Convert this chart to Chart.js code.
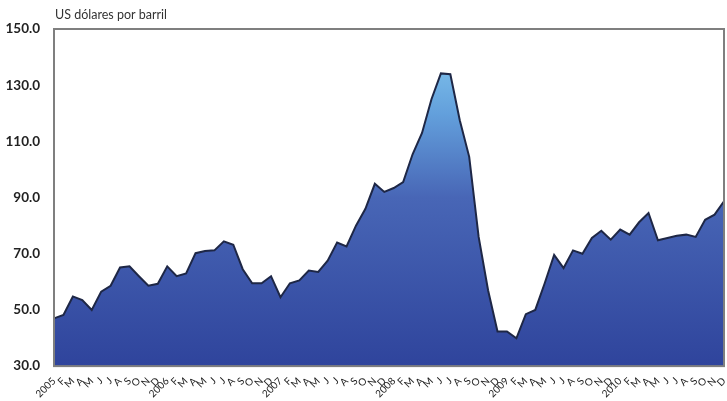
<!DOCTYPE html>
<html>
<head>
<meta charset="utf-8">
<script src="https://cdn.jsdelivr.net/npm/chart.js@4.4.0/dist/chart.umd.min.js"></script>
<style>
  html, body { margin: 0; padding: 0; background: #fff; }
  #wrap { width: 727px; height: 401px; }
</style>
</head>
<body>
<div id="wrap"><canvas id="oilChart"></canvas></div>
<script>
// precio mensual del petroleo, US$ por barril
var years = ['2005', '2006', '2007', '2008', '2009', '2010']
var monthLetters = ['E', 'F', 'M', 'A', 'M', 'J', 'J', 'A', 'S', 'O', 'N', 'D']
var p2005 = [47.0, 48.2, 54.8, 53.5, 50.0, 56.5, 58.6, 65.1, 65.5, 62.0, 58.6, 59.3]
var p2006 = [65.5, 62.0, 63.0, 70.2, 71.0, 71.2, 74.4, 73.2, 64.5, 59.5, 59.5, 62.0]
var p2007 = [54.5, 59.5, 60.5, 64.0, 63.5, 67.5, 74.0, 72.6, 80.0, 86.0, 94.9, 92.0]
var p2008 = [93.4, 95.5, 105.4, 113.0, 125.0, 134.2, 133.9, 117.5, 104.5, 76.0, 57.0, 42.3]
var p2009 = [42.3, 39.9, 48.5, 50.0, 59.5, 69.6, 64.9, 71.2, 70.0, 75.6, 78.2, 75.0]
var p2010 = [78.6, 76.8, 81.2, 84.5, 74.8, 75.6, 76.4, 76.8, 76.0, 82.1, 83.9, 88.7]
var yTicks = [30, 50, 70, 90, 110, 130, 150]
var unitLabel = 'US dólares por barril'

var labels = []
years.forEach(function (y) {
  monthLetters.forEach(function (m, i) {
    labels.push(i === 0 ? y : m)
  })
})
var prices = [].concat(p2005, p2006, p2007, p2008, p2009, p2010)

Chart.defaults.font.family = 'Lato, "Open Sans", sans-serif'
Chart.defaults.color = '#222'

// marco del grafico y texto de unidades
var framePlugin = {
  id: 'frame',
  afterDraw: function (chart) {
    var a = chart.chartArea, ctx = chart.ctx
    ctx.save()
    ctx.strokeStyle = '#7f7f7f'
    ctx.lineWidth = 2
    ctx.strokeRect(a.left, a.top, a.right - a.left, a.bottom - a.top)
    ctx.fillStyle = '#333'
    ctx.font = '12.5px Lato, "Open Sans", sans-serif'
    ctx.textBaseline = 'alphabetic'
    ctx.textAlign = 'left'
    ctx.fillText(unitLabel, a.left + 1, a.top - 10)
    ctx.restore()
  }
}

function areaFill(context) {
  var a = context.chart.chartArea
  if (!a) return '#3a52a6'
  var g = context.chart.ctx.createLinearGradient(0, a.top, 0, a.bottom)
  g.addColorStop(0, '#8ad0f2')
  g.addColorStop(0.25, '#63a0dc')
  g.addColorStop(0.5, '#4866b6')
  g.addColorStop(1, '#2f449c')
  return g
}

var ctx = document.getElementById('oilChart').getContext('2d')
new Chart(ctx, {
  type: 'line',
  data: {
    labels: labels,
    datasets: [{
      data: prices,
      borderColor: '#1e2746',
      borderWidth: 2,
      backgroundColor: areaFill,
      fill: 'start',
      pointRadius: 0,
      tension: 0
    }]
  },
  options: {
    responsive: true,
    maintainAspectRatio: false,
    animation: false,
    layout: { padding: { top: 29, right: 3, left: 0, bottom: 0 } },
    plugins: { legend: { display: false }, tooltip: { enabled: false } },
    scales: {
      x: {
        offset: false,
        grid: { display: false },
        border: { display: false },
        // las etiquetas giradas no deben empujar el area del grafico
        afterFit: function (scale) {
          scale.paddingLeft = 0
          scale.paddingRight = 0
        },
        ticks: {
          autoSkip: false,
          minRotation: 45,
          maxRotation: 45,
          padding: 1,
          font: { size: 10 }
        }
      },
      y: {
        min: 30,
        max: 150,
        grid: { display: false, drawTicks: false },
        border: { display: false },
        afterBuildTicks: function (axis) {
          axis.ticks = yTicks.map(function (v) { return { value: v } })
        },
        afterFit: function (scale) {
          scale.width = 54
        },
        ticks: {
          padding: 14,
          font: { size: 13.5, weight: 'bold' },
          callback: function (v) { return Number(v).toFixed(1) }
        }
      }
    }
  },
  plugins: [framePlugin]
})
</script>
</body>
</html>
